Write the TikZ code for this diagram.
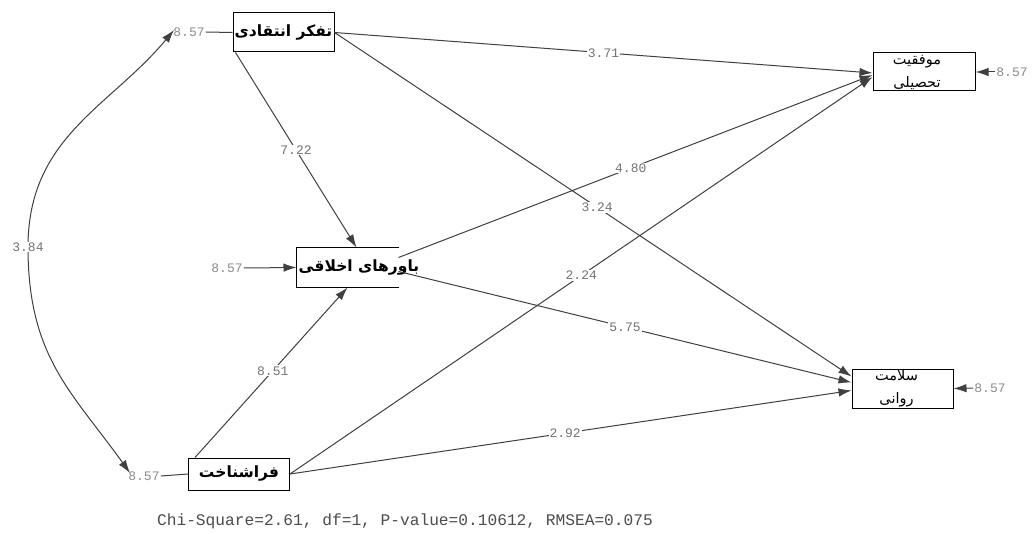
\documentclass[tikz,border=0pt]{standalone}
\usepackage{fontspec}
\setmonofont{Liberation Mono}
\newfontfamily\fa[Script=Arabic]{DejaVu Sans}
\TeXXeTstate=1
\usetikzlibrary{arrows.meta,calc}
\tikzset{
  var/.style={draw=black, line width=1pt, minimum width=101pt, minimum height=39pt, inner sep=0pt, fill=white, font=\fa\bfseries\fontsize{15.5}{18}\selectfont},
  dvar/.style={draw=black, line width=1pt, minimum width=101pt, minimum height=39pt, inner sep=0pt, fill=white},
  dtext/.style={font=\fa\fontsize{14.5}{23}\selectfont, align=center, inner sep=0pt},
  pth/.style={draw=black!75, line width=1pt, -{Latex[length=13pt,width=8.5pt]}},
  plain/.style={draw=black!75, line width=1pt},
  lbl/.style={fill=white, inner sep=1pt, text=black!55, font=\ttfamily\fontsize{13}{13}\selectfont},
  errlbl/.style={fill=white, inner sep=1pt, text=black!45, font=\ttfamily\fontsize{13}{13}\selectfont},
}
\begin{document}
\begin{tikzpicture}[x=1pt,y=-1pt]
\useasboundingbox[fill=white] (0,0) rectangle (1035,534);
% variables
\node[var] (A) at (283.5,32.5) {\beginR تفکر انتقادی\endR};
\node[var, draw=none, fill=none] (B) at (347.5,267.5) {};
\draw[line width=1pt] (B.north east) -- (B.north west) -- (B.south west) -- (B.south east);
\node[font=\fa\bfseries\fontsize{15.5}{18}\selectfont, anchor=west, inner sep=0pt] (Bt) at ($(B.west)+(2,0)$) {\beginR باورهای اخلاقی\endR};
\node[var, minimum height=32pt] (C) at (239,474) {\beginR فراشناخت\endR};
\node[dvar, minimum width=102pt, minimum height=38pt] (D) at (924,72) {};
\node[dtext] (Dt) at ($(D.center)+(-7,0)$) {\beginR موفقیت\endR\\\beginR تحصیلی\endR};
\node[dvar] (E) at (902.5,388.5) {};
\node[dtext] (Et) at ($(E.center)+(-6,0)$) {\beginR سلامت\endR\\\beginR روانی\endR};
% error / variance labels
\node[errlbl] (eA) at (189,32) {8.57};
\node[errlbl] (eB) at (227,268) {8.57};
\node[errlbl] (eC) at (144,476) {8.57};
\node[errlbl] (eD) at (1012,72) {8.57};
\node[errlbl] (eE) at (990,388) {8.57};
\draw[plain] (eA.east) -- (A.west);
\draw[plain] (eC.east) -- (C.west);
\draw[pth] (eB.east) -- (B.west);
\draw[pth] (eD.west) -- (D.east);
\draw[pth] (eE.west) -- (E.east);
% covariance
\coordinate (cA) at (174,30);
\coordinate (cM) at (28,247);
\coordinate (cC) at (130,473);
\draw[draw=black!75, line width=1pt, {Latex[length=13pt,width=8.5pt]}-{Latex[length=13pt,width=8.5pt]}]
  (cA) .. controls (110,107) and (28,137) .. (cM)
  .. controls (28,357) and (72,392) .. (cC);
\node[lbl] (cov) at (cM) {3.84};
% paths
\draw[pth] (A.east) -- node[lbl] (l1) {3.71} ($(D.west)+(0,1)$);
\draw[pth] ($(A.south west)+(3,0)$) -- node[lbl] (l2) {7.22} ($(B.north)+(9,0)$);
\draw[pth] (A.east) -- node[lbl, pos=0.508] (l4) {3.24} ($(E.west)+(0,-12)$);
\draw[pth] ($(B.east)+(0,-10)$) -- node[lbl, pos=0.49] (l3) {4.80} ($(D.west)+(0,3)$);
\draw[pth] ($(B.east)+(0,4)$) -- node[lbl, pos=0.5] (l6) {5.75} ($(E.west)+(0,-6)$);
\draw[pth] (C.east) -- node[lbl, pos=0.5] (l5) {2.24} ($(D.west)+(0,5)$);
\draw[pth] (C.east) -- node[lbl, pos=0.49] (l8) {2.92} ($(E.west)+(0,2)$);
\draw[pth] ($(C.north west)+(7,0)$) -- node[lbl, pos=0.51] (l7) {8.51} (B.south);
% fit statistics
\node[text=black!70, font=\ttfamily\fontsize{16.2}{17}\selectfont] (fit) at (405,521) {Chi-Square=2.61, df=1, P-value=0.10612, RMSEA=0.075};
\end{tikzpicture}
\end{document}
